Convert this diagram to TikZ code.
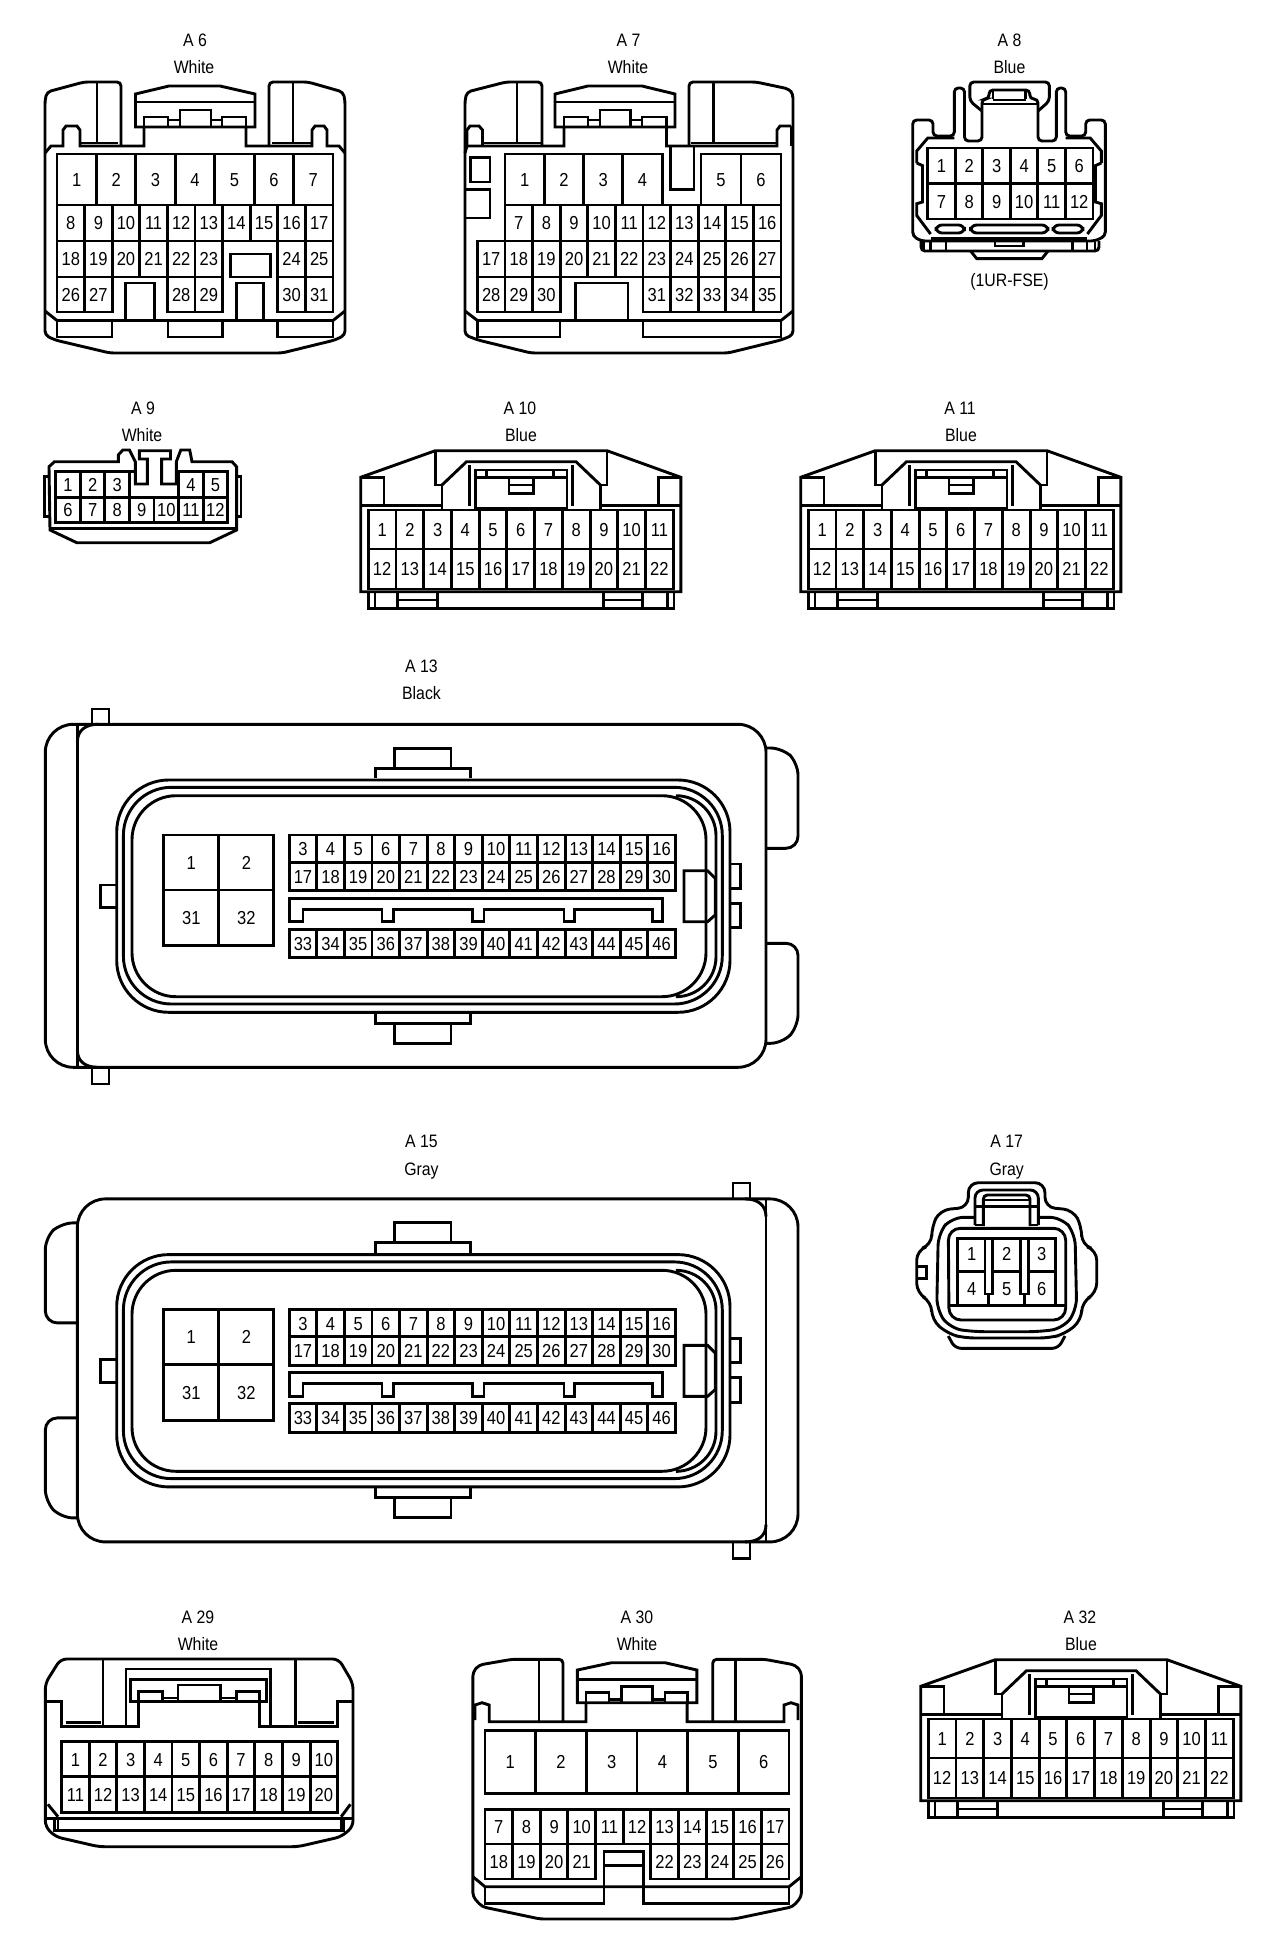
\documentclass[tikz,border=0pt]{standalone}
\usepackage{fontspec}
\setmainfont[FakeStretch=0.88]{Liberation Sans}
\newcommand{\pinrow}[7]{%
  \foreach \n [count=\i from 0] in {#6,...,#7} {
    \node[pin, minimum width=#4*0.5pt, minimum height=#5*0.5pt] at ({#2+(\i+0.5)*#4},{#3+0.5*#5}) (#1p\n) {\n};
  }
}
\newcommand{\slimconn}[5]{%
  \begin{scope}[shift={(#2,#3)}]
    \node[title] at (520,408) (#1name) {#4};
    \node[title] at (521,435) (#1col) {#5};
    \draw (360.7,591.7) -- (360.7,477.3) -- (435.3,450.7) -- (607,450.7) -- (680.8,477.3) -- (680.8,591.7) -- cycle;
    \draw (360.7,477.3) -- (384,477.3) -- (384,505.7);
    \draw (680.8,477.3) -- (658.5,477.3) -- (658.5,505.7);
    \draw (360.7,505.7) -- (442,505.7);
    \draw (600.4,505.7) -- (680.8,505.7);
    \draw (435.3,450.7) -- (435.3,485) -- (442,485) -- (442,510);
    \draw (607,450.7) -- (607,485) -- (600.4,485) -- (600.4,510);
    \draw (442,485) -- (466.5,461.7) -- (576,461.7) -- (600.4,485);
    \draw (469.6,465) -- (469.6,505.7);
    \draw (572.8,465) -- (572.8,505.7);
    \draw (475.4,470) rectangle (567,508.3);
    \draw (475.4,477.3) -- (567,477.3);
    \draw (486.6,470) -- (486.6,477.3);
    \draw (553.6,470) -- (553.6,477.3);
    \draw (509,477.3) -- (509,493.3) -- (533.5,493.3) -- (533.5,477.3);
    \draw (509,485) -- (533.5,485);
    \pinrow{#1}{368.3}{510}{27.72}{39}{1}{11}
    \pinrow{#1}{368.3}{549}{27.72}{40}{12}{22}
    \draw (368.3,591.7) -- (368.3,608.3) -- (674,608.3) -- (674,591.7);
    \foreach \k in {375,397.3,437.5,603.6,642.9,667.4} {
      \draw (\k,591.7) -- (\k,608.3);
    }
    \draw (397.3,600) -- (437.5,600);
    \draw (603.6,600) -- (642.9,600);
  \end{scope}
}
\newcommand{\ecuinner}[2]{%
  \begin{scope}[shift={(0,#2)}]
    \draw (375.4,778.3) -- (375.4,768.3) -- (470.3,768.3) -- (470.3,778.3);
    \draw (394.8,768.3) -- (394.8,748.3) -- (451,748.3) -- (451,768.3);
    \draw (375.4,1013.3) -- (375.4,1023.3) -- (470.3,1023.3) -- (470.3,1013.3);
    \draw (394.8,1023.3) -- (394.8,1043.3) -- (451,1043.3) -- (451,1023.3);
    \draw[rounded corners=26pt] (116.7,780) rectangle (730,1012.3);
    \draw[rounded corners=24pt] (123.4,787.3) rectangle (722.3,1004);
    \draw[rounded corners=22pt] (132,795.7) rectangle (706,996.7);
    \draw[rounded corners=20pt] (678,795.7) -- (716,795.7) -- (716,996.7) -- (678,996.7);
    \draw (116.7,885) -- (100.4,885) -- (100.4,907.7) -- (116.7,907.7);
    \draw (730,864) -- (740.7,864) -- (740.7,888.3) -- (730,888.3);
    \draw (730,903.3) -- (740.7,903.3) -- (740.7,927.7) -- (730,927.7);
    \pinrow{#1}{163.7}{835}{55.1}{55}{1}{2}
    \pinrow{#1}{163.7}{890}{55.1}{55.7}{31}{32}
    \pinrow{#1}{289.2}{835}{27.59}{27.3}{3}{16}
    \pinrow{#1}{289.2}{862.3}{27.59}{28.4}{17}{30}
    \pinrow{#1}{289.2}{929.3}{27.59}{28.4}{33}{46}
    \draw (289.2,898.3) -- (662.7,898.3) -- (662.7,921.7) -- (652.4,921.7) -- (652.4,909.3) -- (574.9,909.3) -- (574.9,921.7) -- (564,921.7) -- (564,909.3) -- (484,909.3) -- (484,921.7) -- (472.9,921.7) -- (472.9,909.3) -- (393.3,909.3) -- (393.3,921.7) -- (382,921.7) -- (382,909.3) -- (303,909.3) -- (303,921.7) -- (289.2,921.7) -- cycle;
    \draw (684,870.7) -- (707.6,870.7) -- (715.2,878.3) -- (715.2,915) -- (707.6,921.7) -- (684,921.7) -- cycle;
  \end{scope}
}
\begin{document}
\begin{tikzpicture}[x=0.5pt,y=-0.5pt,line width=1.45pt,line join=miter]
  \tikzset{
    pin/.style = {draw, rectangle, inner sep=0pt, outer sep=0pt, text height=6.8pt, text depth=0pt, font=\fontsize{9.4}{10}\selectfont},
    num/.style = {inner sep=0pt, text height=6.8pt, text depth=0pt, font=\fontsize{9.4}{10}\selectfont},
    title/.style = {inner sep=0pt, text height=6.5pt, text depth=0pt, font=\fontsize{9}{10}\selectfont},
  }
  \useasboundingbox (0,0) rectangle (1280,1938);
  %
  \node[title] at (195,40) (a6name) {A 6};
  \node[title] at (194,67) (a6col) {White};
  \draw[rounded corners=2pt] (121,146) -- (121,82) -- (84,82) -- (47,92) -- (45,100) -- (45,335) -- (55,340) -- (110,353) -- (282,353) -- (335,340) -- (345,335) -- (345,100) -- (343,92) -- (308,82) -- (269,82) -- (269,146);
  \draw (97,82) -- (97,143);
  \draw (293,82) -- (293,143);
  \draw (135.5,127) -- (135.5,94) -- (169,86) -- (220,86) -- (255,94) -- (255,127) -- cycle;
  \draw (135.5,102) -- (255,102);
  \draw (144,127) -- (144,117) -- (168,117) -- (168,127);
  \draw (180,127) -- (180,110) -- (211,110) -- (211,127);
  \draw (222,127) -- (222,117) -- (246,117) -- (246,127);
  \draw (168,120) -- (180,120);
  \draw (211,120) -- (222,120);
  \draw (45,153) -- (51,146) -- (63,146) -- (63,130) -- (66,126) -- (77,126) -- (80,130) -- (80,146) -- (144,146) -- (144,127);
  \draw (246,127) -- (246,146) -- (312,146) -- (312,130) -- (315,126) -- (324,126) -- (327,130) -- (327,146) -- (339,146) -- (345,153);
  \draw (80,143) -- (118,143);
  \draw (272,143) -- (312,143);
  \pinrow{a6}{57}{154}{39.43}{51}{1}{7}
  \pinrow{a6}{57}{205}{27.6}{36}{8}{17}
  \pinrow{a6}{57}{241}{27.6}{36}{18}{23}
  \pinrow{a6}{277.8}{241}{27.6}{36}{24}{25}
  \pinrow{a6}{57}{277}{27.6}{35}{26}{27}
  \pinrow{a6}{167.4}{277}{27.6}{35}{28}{29}
  \pinrow{a6}{277.8}{277}{27.6}{35}{30}{31}
  \draw (230.6,254) rectangle (270.2,277);
  \draw (125.7,320.5) -- (125.7,283) -- (154.3,283) -- (154.3,320.5);
  \draw (236.7,320.5) -- (236.7,283) -- (263.3,283) -- (263.3,320.5);
  \draw (45,311) -- (57,320.5) -- (333,320.5) -- (345,311);
  \draw (57,320.5) -- (57,337) -- (112,337) -- (112,320.5);
  \draw (168,320.5) -- (168,337) -- (222.4,337) -- (222.4,320.5);
  \draw (277.8,320.5) -- (277.8,337) -- (333,337) -- (333,320.5);
  %
  \node[title] at (628.6,40) (a7name) {A 7};
  \node[title] at (628,67) (a7col) {White};
  \draw[rounded corners=2pt] (542,146) -- (542,82) -- (506,82) -- (467,92) -- (465,100) -- (465,335) -- (478,340) -- (531,353) -- (728,353) -- (781,340) -- (793,335) -- (793,94) -- (789,89) -- (756,82) -- (689,82) -- (689,146);
  \draw (517,82) -- (517,143);
  \draw (713.5,82) -- (713.5,143);
  \draw (555,127) -- (555,94) -- (588,86) -- (642,86) -- (675,94) -- (675,127) -- cycle;
  \draw (555,102) -- (675,102);
  \draw (564,127) -- (564,117) -- (588,117) -- (588,127);
  \draw (600,127) -- (600,110) -- (630.6,110) -- (630.6,127);
  \draw (642,127) -- (642,117) -- (666.5,117) -- (666.5,127);
  \draw (588,120) -- (600,120);
  \draw (630.6,120) -- (642,120);
  \draw (465,153) -- (467,146) -- (482.5,146) -- (564,146) -- (564,127);
  \draw (467,146) -- (467,130) -- (470,126) -- (479,126) -- (482.5,130) -- (482.5,146);
  \draw (666.5,127) -- (666.5,146) -- (777,146) -- (777,130) -- (780,126) -- (791,126);
  \draw (791,126) -- (791,146);
  \draw (482.5,143) -- (541,143);
  \draw (691,143) -- (776,143);
  \draw (670.6,146) -- (670.6,189.5) -- (694,189.5) -- (694,146);
  \draw (470.6,157.6) rectangle (490,182);
  \draw (465,189.6) -- (490,189.6) -- (490,218) -- (465,218);
  \pinrow{a7}{505}{154}{39.3}{51}{1}{4}
  \pinrow{a7}{701}{154}{40}{51}{5}{6}
  \pinrow{a7}{505}{205}{27.6}{36}{7}{16}
  \pinrow{a7}{477.4}{241}{27.6}{36}{17}{27}
  \pinrow{a7}{477.4}{277}{27.6}{35}{28}{30}
  \pinrow{a7}{643}{277}{27.6}{35}{31}{35}
  \draw (575.5,320.5) -- (575.5,283) -- (628,283) -- (628,320.5);
  \draw (465,311) -- (477.4,320.5) -- (781,320.5) -- (793,311);
  \draw (477.4,320.5) -- (477.4,337) -- (560,337) -- (560,320.5);
  \draw (643,320.5) -- (643,337) -- (781,337) -- (781,320.5);
  %
  \node[title] at (1009.5,40) (a8name) {A 8};
  \node[title] at (1009.5,67) (a8col) {Blue};
  \node[title] at (1009.5,279.5) (a8note) {(1UR-FSE)};
  \draw[rounded corners=2pt] (912.7,236) -- (912.7,120) -- (933,120) -- (933,136) -- (954.3,136) -- (954.3,88) -- (964.5,88) -- (964.5,141) -- (982,141) -- (982,99) -- (989,99) -- (989,90) -- (1029.8,90) -- (1029.8,99) -- (1038,99) -- (1038,141) -- (1056.3,141) -- (1056.3,88) -- (1065.7,88) -- (1065.7,136) -- (1085.7,136) -- (1085.7,120) -- (1105.3,120) -- (1105.3,236) -- (1095,241) -- (921,241) -- cycle;
  \draw[rounded corners=2pt] (982,111) -- (969.8,101) -- (969.8,82) -- (1049.4,82) -- (1049.4,101) -- (1038,111);
  \draw (982,104) -- (1038,104);
  \draw (993,99) -- (993,90);
  \draw (1025.7,99) -- (1025.7,90);
  \draw (993,100) -- (1025.7,100);
  \draw (916.7,163) -- (916.7,151) -- (927.8,138) -- (954.3,138);
  \draw (1101.3,163) -- (1101.3,151) -- (1090.2,138) -- (1065.7,138);
  \draw (916.7,163) -- (922.5,165.6) -- (922.5,202) -- (916.7,203.7) -- (916.7,215.5) -- (930.6,234);
  \draw (1101.3,163) -- (1095.5,165.6) -- (1095.5,202) -- (1101.3,203.7) -- (1101.3,215.5) -- (1087.4,234);
  \pinrow{a8}{927.8}{148}{27.53}{35.5}{1}{6}
  \pinrow{a8}{927.8}{183.5}{27.53}{35.5}{7}{12}
  \draw[rounded corners=3pt] (936,225) rectangle (964.5,233);
  \draw[rounded corners=3pt] (970.6,225) rectangle (1048,233);
  \draw[rounded corners=3pt] (1053,225) rectangle (1083,233);
  \draw (930.6,238.4) -- (1087.4,238.4);
  \draw[rounded corners=2pt] (921,241) -- (921,251) -- (1099,251) -- (1099,241);
  \foreach \k in {923.7,930.6,946,1072.6,1087,1095} {
    \draw (\k,242.4) -- (\k,251);
  }
  \draw (995,242) -- (995,246) -- (1023.7,246) -- (1023.7,242);
  \draw (970.6,251) -- (976.7,258.6) -- (1042,258.6) -- (1048,251);
  %
  \node[title] at (143,408) (a9name) {A 9};
  \node[title] at (142,435) (a9col) {White};
  \draw (50,530) -- (49,466.7) -- (54.5,461.7) -- (118.3,461.7) -- (118.3,455) -- (122.8,450) -- (129.5,450) -- (135.3,461.7) -- (135.3,484) -- (147.3,484) -- (147.3,459) -- (139.3,459) -- (139.3,450.7) -- (170.5,450.7) -- (170.5,459) -- (161.6,459) -- (161.6,484) -- (176.3,484) -- (176.3,461.7) -- (180.8,450) -- (189.7,450) -- (192,461.7) -- (232,461.7) -- (236.6,466.7) -- (236.6,530) -- (209.8,542.7) -- (76.8,542.7) -- cycle;
  \draw (49,476.7) -- (44.6,476.7) -- (44.6,516.7) -- (49,516.7);
  \draw (236.6,476.7) -- (241,476.7) -- (241,516.7) -- (236.6,516.7);
  \draw (50,528.3) -- (236.6,528.3);
  \pinrow{a9}{55.8}{471.7}{24.56}{25.6}{1}{3}
  \pinrow{a9}{178.6}{471.7}{24.56}{25.6}{4}{5}
  \pinrow{a9}{55.8}{497.3}{24.56}{25}{6}{12}
  \draw (129.5,471.7) -- (135.3,471.7);
  \draw (176.3,471.7) -- (178.6,471.7);
  %
  \slimconn{a10}{0}{0}{A 10}{Blue}
  \slimconn{a11}{440}{0}{A 11}{Blue}
  \slimconn{a32}{560}{1209}{A 32}{Blue}
  %
  \node[title] at (421.5,666) (a13name) {A 13};
  \node[title] at (421.5,693.4) (a13col) {Black};
  \draw[rounded corners=14pt] (45.3,724.3) rectangle (766,1067.3);
  \draw (77.4,724.3) -- (77.4,1067.3);
  \draw (77.4,742) .. controls (77.4,730) and (86,724.3) .. (98,724.3);
  \draw (77.4,1050) .. controls (77.4,1062) and (86,1067.3) .. (98,1067.3);
  \draw (92,724.3) -- (92,709) -- (109,709) -- (109,724.3);
  \draw (92,1067.3) -- (92,1084) -- (109,1084) -- (109,1067.3);
  \draw[rounded corners=6pt] (766,748) -- (782.6,748) -- (798,763) -- (798,848.3) -- (766,848.3);
  \draw[rounded corners=6pt] (766,943.3) -- (798,943.3) -- (798,1026.7) -- (782.6,1043.3) -- (766,1043.3);
  \ecuinner{a13}{0}
  %
  \node[title] at (421.5,1141) (a15name) {A 15};
  \node[title] at (421.5,1169) (a15col) {Gray};
  \draw[rounded corners=14pt] (77.4,1198.9) rectangle (798,1541.9);
  \draw (766,1198.9) -- (766,1541.9);
  \draw (766,1216.6) .. controls (766,1204.6) and (757,1198.9) .. (745,1198.9);
  \draw (766,1524.6) .. controls (766,1536.6) and (757,1541.9) .. (745,1541.9);
  \draw (733,1198.9) -- (733,1183) -- (750,1183) -- (750,1198.9);
  \draw (733,1541.9) -- (733,1558.6) -- (750,1558.6) -- (750,1541.9);
  \draw[rounded corners=6pt] (77.4,1222.9) -- (61,1222.9) -- (45.3,1237.6) -- (45.3,1322.9) -- (77.4,1322.9);
  \draw[rounded corners=6pt] (77.4,1417.9) -- (45.3,1417.9) -- (45.3,1501.3) -- (61,1517.9) -- (77.4,1517.9);
  \ecuinner{a15}{474.6}
  %
  \node[title] at (1006.7,1141) (a17name) {A 17};
  \node[title] at (1006.7,1169) (a17col) {Gray};
  \draw[rounded corners=5pt] (968.3,1182.7) -- (1045,1182.7) -- (1045,1207.3) -- (1073.3,1210) -- (1081.7,1226.7) -- (1081.7,1245) -- (1096.7,1250) -- (1096.7,1293.3) -- (1081.7,1301.7) -- (1081.7,1320) -- (1065,1334) -- (1049,1338) -- (965,1338) -- (948.3,1334) -- (931.7,1320) -- (931.7,1301.7) -- (916.7,1293.3) -- (916.7,1250) -- (931.7,1245) -- (931.7,1226.7) -- (940,1210) -- (968.3,1207.3) -- cycle;
  \draw[rounded corners=3pt] (948.3,1336) -- (955,1348.3) -- (1058.3,1348.3) -- (1065,1336);
  \draw (916.7,1266.7) -- (926.7,1266.7) -- (926.7,1278.3) -- (916.7,1278.3);
  \draw[rounded corners=6pt] (975,1217.3) -- (951.7,1217.3) -- (938.3,1233.3) -- (936.7,1310) -- (950,1328.3) -- (973,1331.7) -- (1040,1331.7) -- (1063.3,1328.3) -- (1076.7,1310) -- (1075,1233.3) -- (1061.7,1217.3) -- (1038.3,1217.3);
  \draw[rounded corners=6pt] (948.3,1228.3) -- (1065.7,1228.3) -- (1065.7,1320) -- (949,1320) -- cycle;
  \draw[rounded corners=4pt] (975,1225) -- (975,1190) -- (1038.3,1190) -- (1038.3,1225);
  \draw[rounded corners=2pt] (983.3,1226) -- (983.3,1195) -- (1030,1195) -- (1030,1226);
  \draw (975,1206.7) -- (1038.3,1206.7);
  \draw (983.3,1200) -- (1030,1200);
  \draw (975,1225) -- (983.3,1225);
  \draw (1030,1225) -- (1038.3,1225);
  \draw (957.3,1305.7) -- (957.3,1238.3) -- (1055.7,1238.3) -- (1055.7,1305.7);
  \draw (949,1305.7) -- (1065.7,1305.7);
  \draw (957.3,1271.7) -- (985,1271.7);
  \draw (992.3,1271.7) -- (1020.7,1271.7);
  \draw (1028.3,1271.7) -- (1055.7,1271.7);
  \draw (985,1238.3) rectangle (992.3,1294);
  \draw (1020.7,1238.3) rectangle (1028.3,1294);
  \draw (988.6,1294) -- (988.6,1305.7);
  \draw (1024.5,1294) -- (1024.5,1305.7);
  \node[num] at (971.7,1253.3) (a17p1) {1};
  \node[num] at (1006.7,1253.3) (a17p2) {2};
  \node[num] at (1041.7,1253.3) (a17p3) {3};
  \node[num] at (971.7,1288.3) (a17p4) {4};
  \node[num] at (1006.7,1288.3) (a17p5) {5};
  \node[num] at (1041.7,1288.3) (a17p6) {6};
  %
  \node[title] at (198,1617) (a29name) {A 29};
  \node[title] at (198,1644) (a29col) {White};
  \draw[rounded corners=3pt] (60.6,1659) -- (45.3,1683.3) -- (45.3,1826.7) -- (55.5,1836.7) -- (98.9,1846.7) -- (297.9,1846.7) -- (341.2,1836.7) -- (353,1826.7) -- (353,1683.3) -- (338.7,1659) -- cycle;
  \draw[rounded corners=2pt] (103,1726) -- (103,1659);
  \draw[rounded corners=2pt] (295.3,1726) -- (295.3,1659);
  \draw (126,1726) -- (126,1669) -- (270.8,1669) -- (270.8,1726);
  \draw (130.5,1679.3) rectangle (266.2,1701.7);
  \draw (138.2,1701.7) -- (138.2,1691.7) -- (162.7,1691.7) -- (162.7,1701.7);
  \draw (178,1701.7) -- (178,1685) -- (220.3,1685) -- (220.3,1701.7);
  \draw (236.6,1701.7) -- (236.6,1691.7) -- (259.6,1691.7) -- (259.6,1701.7);
  \draw (162.7,1698) -- (178,1698);
  \draw (220.3,1698) -- (236.6,1698);
  \draw (45.3,1701.7) -- (61.6,1701.7) -- (61.6,1726.7) -- (138.2,1726.7) -- (138.2,1701.7);
  \draw (259.6,1701.7) -- (259.6,1726.7) -- (337.7,1726.7) -- (337.7,1701.7) -- (353,1701.7);
  \draw (65.7,1722.7) -- (101.4,1722.7);
  \draw (297.9,1722.7) -- (333.6,1722.7);
  \pinrow{a29}{61.6}{1741.7}{27.61}{35}{1}{10}
  \pinrow{a29}{61.6}{1776.7}{27.61}{36}{11}{20}
  \draw (45.3,1818.3) -- (353,1818.3);
  \draw (47.9,1804.3) -- (58,1816.7);
  \draw (341.2,1816.7) -- (350.4,1804.3);
  \draw (54.5,1818.3) -- (54.5,1830.7) -- (343.8,1830.7) -- (343.8,1818.3);
  \draw (58,1818.3) -- (58,1830.7);
  \draw (341.2,1818.3) -- (341.2,1830.7);
  %
  \node[title] at (637,1617) (a30name) {A 30};
  \node[title] at (637,1644) (a30col) {White};
  \draw[rounded corners=2pt] (563,1721.7) -- (563,1659.3) -- (512,1659.3) -- (479,1665) -- (472.9,1672) -- (472.9,1896.7) -- (482,1906.7) -- (540.2,1919) -- (734,1919) -- (792.8,1906.7) -- (801.4,1896.7) -- (801.4,1672) -- (795.3,1665) -- (764.7,1659.3) -- (712.7,1659.3) -- (712.7,1721.7);
  \draw (539,1659.3) -- (539,1721.7);
  \draw (735.6,1659.3) -- (735.6,1721.7);
  \draw (577.4,1702.7) -- (577.4,1670) -- (611.6,1662.7) -- (665,1662.7) -- (696.8,1670) -- (696.8,1702.7) -- cycle;
  \draw (577.4,1679.3) -- (696.8,1679.3);
  \draw (586,1702.7) -- (586,1692.7) -- (609,1692.7) -- (609,1702.7);
  \draw (621.8,1702.7) -- (621.8,1686.7) -- (652.4,1686.7) -- (652.4,1702.7);
  \draw (665,1702.7) -- (665,1692.7) -- (687.1,1692.7) -- (687.1,1702.7);
  \draw (609,1699.3) -- (621.8,1699.3);
  \draw (652.4,1699.3) -- (665,1699.3);
  \draw (586,1702.7) -- (586,1721.7) -- (489.2,1721.7) -- (489.2,1705) -- (482,1702.7) -- (475,1705) -- (475,1720);
  \draw (687.1,1702.7) -- (687.1,1721.7) -- (784,1721.7) -- (784,1705) -- (791,1702.7) -- (798,1705) -- (798,1720);
  \pinrow{a30}{485}{1730.7}{50.67}{62.6}{1}{6}
  \pinrow{a30}{485}{1809.3}{27.64}{34.7}{7}{17}
  \pinrow{a30}{485}{1844}{27.64}{35}{18}{21}
  \pinrow{a30}{650.8}{1844}{27.64}{35}{22}{26}
  \draw (472.9,1876.7) -- (485,1886.7) -- (789,1886.7) -- (801.4,1876.7);
  \draw (485,1886.7) -- (485,1903.3) -- (604,1903.3) -- (604,1851.7) -- (643.8,1851.7) -- (643.8,1903.3) -- (789,1903.3) -- (789,1886.7);
  \draw (604,1865.7) -- (643.8,1865.7);
\end{tikzpicture}
\end{document}
